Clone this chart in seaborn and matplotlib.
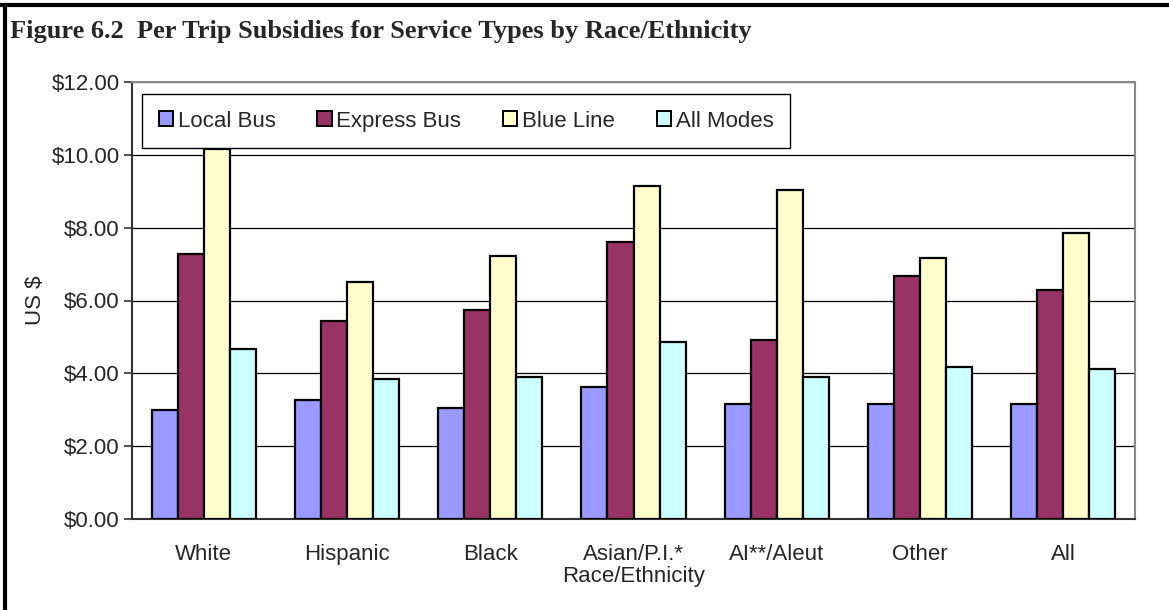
import numpy as np
import pandas as pd
import matplotlib
matplotlib.use("Agg")
import matplotlib.pyplot as plt
from matplotlib.lines import Line2D
from matplotlib.ticker import FuncFormatter
import seaborn as sns

groups = ["White", "Hispanic", "Black", "Asian/P.I.*", "AI**/Aleut", "Other", "All"]
modes = ["Local Bus", "Express Bus", "Blue Line", "All Modes"]

local_bus = [3.00, 3.28, 3.06, 3.62, 3.17, 3.17, 3.17]
express_bus = [7.28, 5.43, 5.75, 7.62, 4.92, 6.67, 6.28]
blue_line = [10.16, 6.50, 7.23, 9.15, 9.04, 7.18, 7.84]
all_modes = [4.68, 3.84, 3.90, 4.86, 3.90, 4.17, 4.13]

colors = ["#9999FF", "#993366", "#FFFFCC", "#CCFFFF"]

df = pd.DataFrame({
    "Race": groups * 4,
    "Mode": np.repeat(modes, len(groups)),
    "Subsidy": local_bus + express_bus + blue_line + all_modes,
})

sns.set_style("white")
plt.rcParams["font.family"] = ["Liberation Sans", "DejaVu Sans"]

W, H = 1169, 610
fig = plt.figure(figsize=(W / 100, H / 100), dpi=100)
# plot area in pixels: left 132, right 1135, top 82, bottom 519
ax = fig.add_axes([132 / W, 1 - 519 / H, (1135 - 132) / W, (519 - 82) / H])

sns.barplot(data=df, x="Race", y="Subsidy", hue="Mode", palette=colors,
            edgecolor="black", linewidth=1.6, width=0.727, gap=0,
            saturation=1, ax=ax, zorder=3)

ax.set_ylim(0, 12)
ax.set_xlim(-0.5, 6.5)
ax.set_yticks(np.arange(0, 13, 2))
ax.yaxis.set_major_formatter(FuncFormatter(lambda v, p: "${:.2f}".format(v)))
ax.yaxis.grid(True, color="black", linewidth=0.9, zorder=0)
ax.set_axisbelow(True)

ax.set_xticks(np.arange(-0.5, 7, 1), minor=True)
ax.tick_params(axis="x", which="major", length=0, labelsize=16, pad=18)
ax.tick_params(axis="x", which="minor", length=6, width=1.2, color="#333333", direction="out")
ax.tick_params(axis="y", length=6, width=1.2, color="#333333", direction="out",
               labelsize=16, pad=3, left=True)

for side in ["left", "bottom"]:
    ax.spines[side].set_color("#333333")
    ax.spines[side].set_linewidth(1.5)
for side in ["top", "right"]:
    ax.spines[side].set_visible(True)
    ax.spines[side].set_color("#888888")
    ax.spines[side].set_linewidth(1.5)

ax.set_xlabel("Race/Ethnicity", fontsize=16, labelpad=1)
ax.set_ylabel("US $", fontsize=16, labelpad=4)

handles, labels = ax.get_legend_handles_labels()
leg = ax.legend(handles, labels, ncol=4, loc="upper left", mode="expand",
                bbox_to_anchor=(0.01, 0.8555, 0.646, 0.117),
                frameon=True, fancybox=False, edgecolor="black", framealpha=1,
                fontsize=16, handlelength=0.65, handleheight=0.65,
                handletextpad=0.2, borderaxespad=0, columnspacing=1.0,
                borderpad=0.75)
leg.get_frame().set_linewidth(1.0)
for h in leg.legend_handles:
    h.set_edgecolor("black")
    h.set_linewidth(1.4)

fig.text(10 / W, 1 - 20 / H, "Figure 6.2  Per Trip Subsidies for Service Types by Race/Ethnicity",
         fontsize=19, fontweight="bold", family=["Liberation Serif", "DejaVu Serif"],
         va="top", ha="left")

# page frame lines (top and left)
fig.add_artist(Line2D([0, 1], [1 - 5 / H, 1 - 5 / H], transform=fig.transFigure,
                      color="black", linewidth=3))
fig.add_artist(Line2D([5 / W, 5 / W], [0, 1 - 5 / H], transform=fig.transFigure,
                      color="black", linewidth=3))

fig.savefig("out.png", dpi=100)
